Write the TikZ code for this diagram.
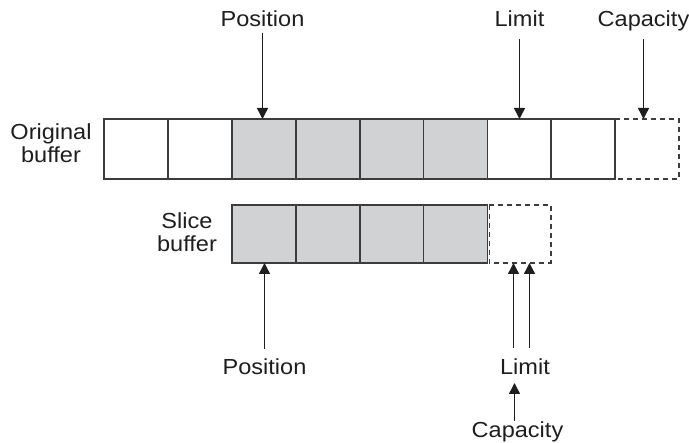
\documentclass[tikz,border=0pt]{standalone}
\usepackage{fontspec}
\setmainfont{Liberation Sans}[FakeStretch=1.08]
\usetikzlibrary{arrows.meta}
\definecolor{cellgray}{HTML}{D1D2D4}
\definecolor{edgegray}{HTML}{3C3C3C}
\definecolor{inkgray}{HTML}{1E1E1E}
\begin{document}
\begin{tikzpicture}[x=1pt,y=-1pt,
  cell/.style={draw=edgegray, line width=1.8pt, minimum width=63.9pt,
    minimum height=60pt, inner sep=0pt, outer sep=0pt},
  slicecell/.style={cell, minimum height=58pt},
  shaded/.style={fill=cellgray},
  spare/.style={draw=edgegray, line width=1.6pt, dash pattern=on 5pt off 4pt},
  lbl/.style={font=\fontsize{21.8}{23}\selectfont, inner sep=0pt,
    anchor=base, text=inkgray},
  ptr/.style={draw=inkgray, line width=1.4pt,
    -{Triangle[width=11pt,length=11pt]}}]
\useasboundingbox (0,0) rectangle (689,443);

% original buffer: eight cells plus the spare capacity slot
\node[cell] (o1) at (135.95,149) {};
\node[cell] (o2) at (199.85,149) {};
\node[cell,shaded] (o3) at (263.75,149) {};
\node[cell,shaded] (o4) at (327.65,149) {};
\node[cell,shaded] (o5) at (391.55,149) {};
\node[cell,shaded] (o6) at (455.45,149) {};
\node[cell] (o7) at (519.35,149) {};
\node[cell] (o8) at (583.25,149) {};
\node[cell,draw=none] (o9) at (647.15,149) {};
\draw[spare] (o9.north west) rectangle (o9.south east);

% slice buffer
\node[slicecell,shaded] (s1) at (263.75,234) {};
\node[slicecell,shaded] (s2) at (327.65,234) {};
\node[slicecell,shaded] (s3) at (391.55,234) {};
\node[slicecell,shaded] (s4) at (455.45,234) {};
\node[slicecell,draw=none,minimum width=61.5pt] (s5) at (520.1,234) {};
\draw[spare] (s5.north west) rectangle (s5.south east);

% row labels (base anchor sits on the last line)
\node[lbl, align=center] (origL) at (51,163) {Original\\buffer};
\node[lbl, align=center] (sliceL) at (187,251.7) {Slice\\buffer};

% markers above the original buffer
\node[lbl] (posT) at (262.5,26.7) {Position};
\node[lbl] (limT) at (519.5,26.7) {Limit};
\node[lbl] (capT) at (643.5,26.7) {Capacity};
\draw[ptr] ([yshift=-6.5pt]posT.base) -- (posT.base |- o3.north);
\draw[ptr] ([yshift=-12.5pt]limT.base) -- (limT.base |- o7.north);
\draw[ptr] ([yshift=-12.5pt]capT.base) -- (capT.base |- o9.north);

% markers below the slice buffer
\node[lbl] (posB) at (264.5,375) {Position};
\node[lbl] (limB) at (525,375) {Limit};
\node[lbl] (capB) at (517.5,438) {Capacity};
\draw[ptr] ([yshift=26pt]posB.base) -- (posB.base |- s1.south);
\draw[ptr] ([xshift=-11.5pt,yshift=27pt]limB.base) -- ([xshift=-11.5pt]limB.base |- s5.south);
\draw[ptr] ([xshift=4.5pt,yshift=27pt]limB.base) -- ([xshift=4.5pt]limB.base |- s5.south);
\draw[ptr] ([xshift=-3pt,yshift=17.3pt]capB.base) -- ([xshift=-3pt,yshift=55pt]capB.base);
\end{tikzpicture}
\end{document}
